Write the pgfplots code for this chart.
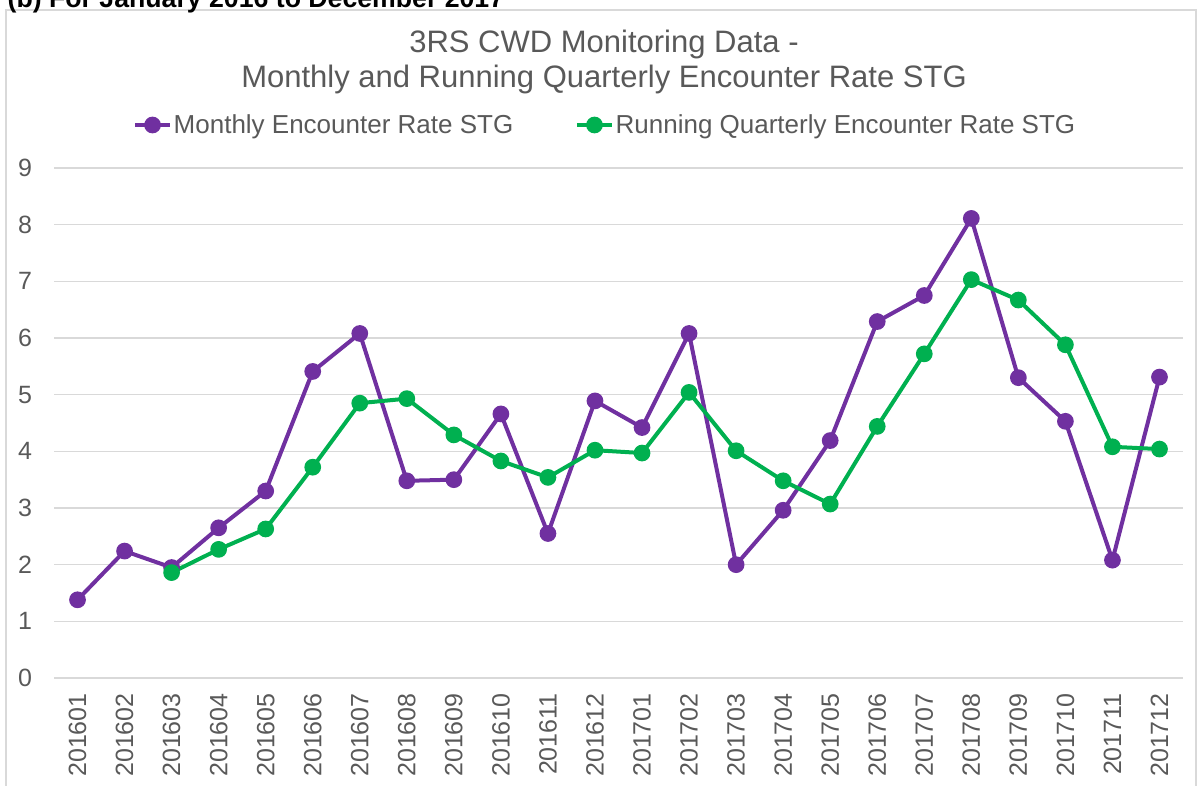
\documentclass[border=0pt]{standalone}
\usepackage{fontspec}
\setmainfont{Liberation Sans}
\usepackage{pgfplots}
\pgfplotsset{compat=1.18}
\definecolor{mpurple}{HTML}{7030A0}
\definecolor{mgreen}{HTML}{00B050}
\definecolor{txtgray}{HTML}{595959}
\definecolor{gridgray}{HTML}{D9D9D9}
\begin{document}
\begin{tikzpicture}[x=1pt,y=1pt]
\useasboundingbox (-32.4,-64.2) rectangle (686.4,406.8);
\draw[gridgray, line width=0.9pt] (-28.8,-70) -- (-28.8,400.8) -- (685.2,400.8) -- (685.2,-70);
\node[anchor=base west, inner sep=0pt, font=\bfseries\fontsize{16}{19}\selectfont] at (-28,402) {(b) For January 2016 to December 2017};
\node[anchor=base, inner sep=0pt, text=txtgray, font=\fontsize{18.6}{22}\selectfont] at (330,375) {3RS CWD Monitoring Data -};
\node[anchor=base, inner sep=0pt, text=txtgray, font=\fontsize{18.6}{22}\selectfont] at (330,354) {Monthly and Running Quarterly Encounter Rate STG};
\begin{axis}[
  at={(0,0)}, anchor=south west,
  scale only axis, width=677.4pt, height=306pt,
  xmin=-0.5, xmax=23.5, ymin=0, ymax=9,
  ytick={0,1,...,9},
  xtick={0,1,...,23},
  xticklabels={201601,201602,201603,201604,201605,201606,201607,201608,201609,201610,201611,201612,201701,201702,201703,201704,201705,201706,201707,201708,201709,201710,201711,201712},
  /pgf/number format/assume math mode=true,
  axis line style={draw=none}, major tick length=0pt,
  ymajorgrids, grid style={gridgray, line width=0.9pt},
  tick label style={font=\fontsize{15}{18}\selectfont, text=txtgray},
  xticklabel style={rotate=90, anchor=east, inner sep=0pt},
  xticklabel shift=9pt,
  yticklabel style={inner sep=0pt},
  yticklabel shift=13pt,
  clip=false,
  legend columns=2,
  legend style={at={(axis description cs:0.488,1.0843)}, anchor=center, draw=none, fill=none,
    font=\fontsize{15.6}{18}\selectfont, text=txtgray,
    nodes={inner sep=1pt},
    /tikz/every even column/.append style={column sep=36pt}},
  legend image code/.code={\draw[mark repeat=2,mark phase=2] plot coordinates {(0pt,0pt) (10.5pt,0pt) (21pt,0pt)};},
  every axis plot/.append style={line width=2.4pt, mark=*, mark size=3.8pt, mark options={solid}},
]
\addplot[color=mpurple] coordinates {
(0,1.38) (1,2.24) (2,1.95) (3,2.65) (4,3.30) (5,5.41) (6,6.08) (7,3.48) (8,3.50) (9,4.66) (10,2.55) (11,4.89)
(12,4.42) (13,6.08) (14,2.00) (15,2.96) (16,4.19) (17,6.29) (18,6.75) (19,8.11) (20,5.30) (21,4.53) (22,2.08) (23,5.31)};
\addlegendentry{Monthly Encounter Rate STG}
\addplot[color=mgreen] coordinates {
(2,1.86) (3,2.27) (4,2.63) (5,3.72) (6,4.85) (7,4.93) (8,4.29) (9,3.83) (10,3.54) (11,4.02)
(12,3.97) (13,5.04) (14,4.01) (15,3.48) (16,3.07) (17,4.44) (18,5.72) (19,7.03) (20,6.67) (21,5.88) (22,4.08) (23,4.04)};
\addlegendentry{Running Quarterly Encounter Rate STG}
\end{axis}
\end{tikzpicture}
\end{document}
